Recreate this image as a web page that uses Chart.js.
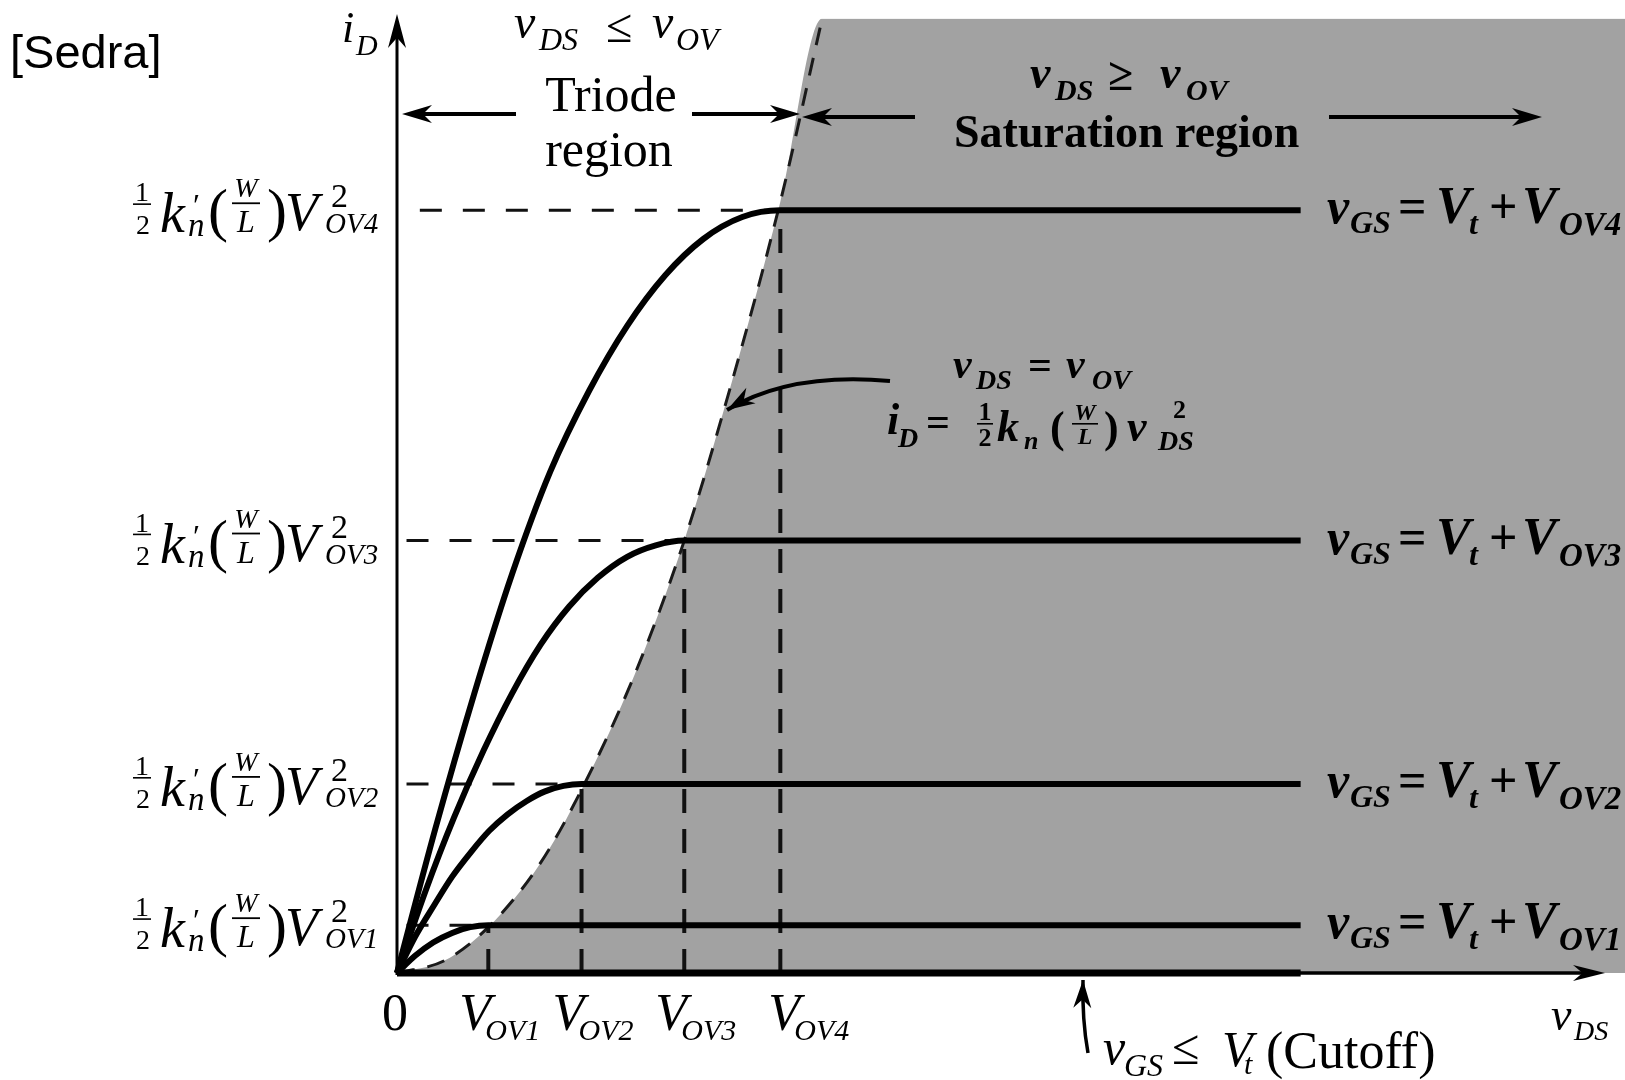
<!DOCTYPE html>
<html>
<head>
<meta charset="utf-8">
<title>MOSFET iD - vDS characteristics</title>
<script src="https://cdn.jsdelivr.net/npm/chart.js@4.4.1/dist/chart.umd.min.js"></script>
<style>
html, body { margin: 0; padding: 0; background: #fff; }
#wrap { width: 1625px; height: 1080px; }
</style>
</head>
<body>
<div id="wrap"><canvas id="chart" width="1625" height="1080"></canvas></div>
<script>
// overdrive voltages (x ticks) and the matching saturation currents (y levels)
var vovNames = ["OV1", "OV2", "OV3", "OV4"];
var vov = [0.96, 1.94, 3.02, 4.03];
var idSat = [0.50, 1.98, 4.53, 7.99];
var satEnd = 9.5;
var xMax = 12.91, yMax = 10.0;

// curves (triode part, then flat to satEnd)
var c1x = [0, 0.19, 0.38, 0.58, 0.77, 0.96, 9.5];
var c1y = [0, 0.18, 0.32, 0.42, 0.48, 0.50, 0.50];
var c2x = [0, 0.19, 0.39, 0.58, 0.78, 0.97, 1.16, 1.36, 1.55, 1.75, 1.94, 9.5];
var c2y = [0, 0.38, 0.71, 1.01, 1.27, 1.49, 1.66, 1.80, 1.90, 1.96, 1.98, 1.98];
var c3x = [0, 0.30, 0.60, 0.91, 1.21, 1.51, 1.81, 2.11, 2.42, 2.72, 3.02, 9.5];
var c3y = [0, 0.86, 1.63, 2.33, 2.93, 3.44, 3.84, 4.14, 4.36, 4.48, 4.53, 4.53];
var c4x = [0, 0.40, 0.81, 1.21, 1.61, 2.02, 2.42, 2.82, 3.22, 3.63, 4.03, 9.5];
var c4y = [0, 1.50, 2.92, 4.18, 5.25, 6.10, 6.78, 7.31, 7.69, 7.92, 7.99, 7.99];

// edge of saturation, vDS = vOV
var edgeX = [0, 0.50, 0.96, 1.50, 1.94, 2.50, 3.02, 3.50, 4.03, 4.47];
var edgeY = [0, 0.13, 0.48, 1.14, 1.92, 3.13, 4.53, 6.12, 8.08, 10.0];

function pts(xs, ys) {
	var out = [];
	for (var i = 0; i < xs.length; i++) out.push({ x: xs[i], y: ys[i] });
	return out;
}

var datasets = [];
[[c1x, c1y], [c2x, c2y], [c3x, c3y], [c4x, c4y]].forEach(function (c) {
	datasets.push({
		data: pts(c[0], c[1]), showLine: true, borderColor: "#000", borderWidth: 6,
		pointRadius: 0, cubicInterpolationMode: "monotone", clip: false, order: 0
	});
});
// cutoff: iD = 0
datasets.push({
	data: pts([0, satEnd], [0, 0]), showLine: true, borderColor: "#000", borderWidth: 7,
	pointRadius: 0, clip: false, order: 0
});
// dashed guides to each saturation point
for (var i = 0; i < vov.length; i++) {
	datasets.push({
		data: pts([i === 3 ? 0.24 : 0.1, vov[i]], [idSat[i], idSat[i]]), showLine: true,
		borderColor: "#111", borderWidth: 3, borderDash: [22, 21], pointRadius: 0, order: 1
	});
	datasets.push({
		data: pts([vov[i], vov[i]], [0, idSat[i]]), showLine: true, borderColor: "#111",
		borderWidth: 4, borderDash: [24, 16], pointRadius: 0, order: 1
	});
}
datasets.push({
	data: pts(edgeX, edgeY), showLine: true, borderColor: "#1a1a1a", borderWidth: 3,
	borderDash: [18, 13], pointRadius: 0, cubicInterpolationMode: "monotone", order: 2
});
// shaded saturation region
datasets.push({
	data: pts(edgeX.concat([xMax]), edgeY.concat([yMax])), showLine: true,
	borderWidth: 0, borderColor: "rgba(0,0,0,0)", backgroundColor: "#a2a2a2",
	fill: "origin", pointRadius: 0, cubicInterpolationMode: "monotone", order: 5
});

var SERIF = "'Liberation Serif', 'DejaVu Serif', serif";

function put(ctx, txt, x, y, size, style, align) {
	ctx.font = (style || "") + " " + size + "px " + SERIF;
	ctx.textAlign = align || "left";
	ctx.textBaseline = "alphabetic";
	ctx.fillText(txt, x, y);
}

function frac(ctx, num, den, cx, barY, size, style, w) {
	put(ctx, num, cx, barY - 4, size, style, "center");
	put(ctx, den, cx, barY + size * 0.85, size, style, "center");
	ctx.fillRect(cx - w / 2, barY - 1, w, 1.6);
}

function head(ctx, tx, ty, ang, len, half) {
	var ca = Math.cos(ang), sa = Math.sin(ang);
	function p(a, b) { return [tx + a * ca - b * sa, ty + a * sa + b * ca]; }
	var b1 = p(-len, -half), b2 = p(-len, half), n = p(-len * 0.7, 0);
	ctx.beginPath();
	ctx.moveTo(tx, ty);
	ctx.lineTo(b1[0], b1[1]);
	ctx.lineTo(n[0], n[1]);
	ctx.lineTo(b2[0], b2[1]);
	ctx.closePath();
	ctx.fill();
}

function arrow(ctx, x1, y1, x2, y2, lw) {
	var ang = Math.atan2(y2 - y1, x2 - x1);
	ctx.lineWidth = lw;
	ctx.beginPath();
	ctx.moveTo(x1, y1);
	ctx.lineTo(x2 - 10 * Math.cos(ang), y2 - 10 * Math.sin(ang));
	ctx.stroke();
	head(ctx, x2, y2, ang, 30, 9);
}

function curvedArrow(ctx, x1, y1, cx, cy, x2, y2, lw) {
	ctx.lineWidth = lw;
	ctx.beginPath();
	ctx.moveTo(x1, y1);
	ctx.quadraticCurveTo(cx, cy, x2, y2);
	ctx.stroke();
	head(ctx, x2, y2, Math.atan2(y2 - cy, x2 - cx), 28, 9);
}

var sketch = {
	id: "sketch",
	beforeDraw: function (chart) {
		var ctx = chart.ctx;
		ctx.save();
		ctx.fillStyle = "#fff";
		ctx.fillRect(0, 0, chart.width, chart.height);
		ctx.restore();
	},
	afterDatasetsDraw: function (chart) {
		var ctx = chart.ctx, xs = chart.scales.x, ys = chart.scales.y;
		var x0 = xs.getPixelForValue(0), y0 = ys.getPixelForValue(0);
		ctx.save();
		ctx.strokeStyle = "#000";
		ctx.fillStyle = "#000";
		ctx.lineCap = "butt";
		// axes with arrow heads
		ctx.lineWidth = 3;
		ctx.beginPath();
		ctx.moveTo(x0, y0 + 2);
		ctx.lineTo(x0, 30);
		ctx.stroke();
		head(ctx, x0, 14, -Math.PI / 2, 34, 9);
		ctx.lineWidth = 3.5;
		ctx.beginPath();
		ctx.moveTo(x0, y0);
		ctx.lineTo(1585, y0);
		ctx.stroke();
		head(ctx, 1605, y0, 0, 32, 8);
		ctx.restore();
	},
	afterDraw: function (chart) {
		var ctx = chart.ctx, xs = chart.scales.x, ys = chart.scales.y;
		var x0 = xs.getPixelForValue(0);
		ctx.save();
		ctx.fillStyle = "#000";
		ctx.strokeStyle = "#000";

		// source tag
		ctx.font = "47px 'Liberation Sans', Arial, sans-serif";
		ctx.textAlign = "left";
		ctx.fillText("[Sedra]", 10, 68);

		// axis names
		put(ctx, "i", 342, 42, 44, "italic");
		put(ctx, "D", 356, 55, 30, "italic");
		put(ctx, "v", 1551, 1030, 46, "italic");
		put(ctx, "DS", 1574, 1040, 28, "italic");

		// y labels: 1/2 k'n (W/L) V^2_OVn
		for (var i = 0; i < idSat.length; i++) {
			var L = ys.getPixelForValue(idSat[i]);
			put(ctx, "1", 142, L - 9, 28, "", "center");
			ctx.fillRect(133, L - 7, 18, 1.6);
			put(ctx, "2", 143, L + 24, 28, "", "center");
			put(ctx, "k", 160, L + 22, 56, "italic");
			put(ctx, "\u2032", 193, L + 6, 32, "");
			put(ctx, "n", 188, L + 26, 33, "italic");
			put(ctx, "(", 208, L + 20, 60, "");
			put(ctx, "W", 246, L - 13, 28, "italic", "center");
			ctx.fillRect(232, L - 8, 28, 1.8);
			put(ctx, "L", 246, L + 22, 32, "italic", "center");
			put(ctx, ")", 267, L + 20, 60, "");
			put(ctx, "V", 285, L + 20, 54, "italic");
			put(ctx, "2", 331, L - 3, 34, "");
			put(ctx, vovNames[i], 325, L + 23, 29, "italic");
		}

		// x labels
		put(ctx, "0", x0 - 2, 1030, 52, "", "center");
		for (var j = 0; j < vov.length; j++) {
			var px = xs.getPixelForValue(vov[j]) - (j === 3 ? 12 : 29);
			put(ctx, "V", px, 1030, 52, "italic");
			put(ctx, vovNames[j], px + 26, 1040, 30, "italic");
		}

		// right labels vGS = Vt + VOVn
		for (var k = 0; k < idSat.length; k++) {
			var R = ys.getPixelForValue(idSat[k]);
			put(ctx, "v", 1327, R + 13, 50, "bold italic");
			put(ctx, "GS", 1350, R + 23, 32, "bold italic");
			put(ctx, "=", 1398, R + 13, 50, "bold");
			put(ctx, "V", 1436, R + 13, 52, "bold italic");
			put(ctx, "t", 1469, R + 24, 32, "bold italic");
			put(ctx, "+", 1489, R + 13, 50, "bold");
			put(ctx, "V", 1522, R + 13, 52, "bold italic");
			put(ctx, vovNames[k], 1559, R + 25, 33, "bold italic");
		}

		// triode region heading
		put(ctx, "v", 514, 38, 48, "italic");
		put(ctx, "DS", 539, 50, 32, "italic");
		put(ctx, "\u2264", 606, 42, 48, "");
		put(ctx, "v", 652, 38, 48, "italic");
		put(ctx, "OV", 676, 50, 32, "italic");
		put(ctx, "Triode", 611, 111, 50, "", "center");
		put(ctx, "region", 609, 166, 50, "", "center");
		arrow(ctx, 516, 114, 402, 114, 4);
		arrow(ctx, 692, 114, 800, 114, 4);

		// saturation region heading
		put(ctx, "v", 1030, 88, 46, "bold italic");
		put(ctx, "DS", 1055, 100, 30, "bold italic");
		put(ctx, "\u2265", 1108, 90, 46, "bold");
		put(ctx, "v", 1160, 88, 46, "bold italic");
		put(ctx, "OV", 1186, 100, 30, "bold italic");
		put(ctx, "Saturation region", 954, 147, 46, "bold");
		arrow(ctx, 915, 117, 802, 117, 4);
		arrow(ctx, 1329, 117, 1542, 117, 4);

		// boundary note
		put(ctx, "v", 953, 378, 42, "bold italic");
		put(ctx, "DS", 976, 389, 28, "bold italic");
		put(ctx, "=", 1028, 379, 42, "bold");
		put(ctx, "v", 1066, 378, 42, "bold italic");
		put(ctx, "OV", 1092, 389, 28, "bold italic");
		put(ctx, "i", 887, 434, 44, "bold italic");
		put(ctx, "D", 898, 447, 28, "bold italic");
		put(ctx, "=", 926, 436, 42, "bold");
		frac(ctx, "1", "2", 985, 424, 26, "bold", 16);
		put(ctx, "k", 997, 441, 44, "bold italic");
		put(ctx, "n", 1024, 449, 26, "bold italic");
		put(ctx, "(", 1050, 442, 44, "bold");
		frac(ctx, "W", "L", 1085, 424, 24, "bold italic", 26);
		put(ctx, ")", 1104, 442, 44, "bold");
		put(ctx, "v", 1127, 441, 44, "bold italic");
		put(ctx, "2", 1173, 418, 26, "bold");
		put(ctx, "DS", 1158, 450, 28, "bold italic");
		curvedArrow(ctx, 890, 381, 790, 372, 727, 410, 4);

		// cutoff note
		put(ctx, "v", 1103, 1064, 50, "italic");
		put(ctx, "GS", 1124, 1076, 32, "italic");
		put(ctx, "\u2264", 1172, 1064, 50, "");
		put(ctx, "V", 1222, 1066, 50, "italic");
		put(ctx, "t", 1244, 1074, 30, "italic");
		put(ctx, "(Cutoff)", 1266, 1068, 52, "");
		curvedArrow(ctx, 1088, 1053, 1082, 1020, 1083, 980, 3.5);

		ctx.restore();
	}
};

new Chart(document.getElementById("chart"), {
	type: "scatter",
	data: { datasets: datasets },
	options: {
		responsive: false,
		animation: false,
		devicePixelRatio: 1,
		events: [],
		layout: { padding: { left: 397, right: 0, top: 18.5, bottom: 107 } },
		scales: {
			x: { type: "linear", min: 0, max: xMax, display: false },
			y: { type: "linear", min: 0, max: yMax, display: false }
		},
		plugins: { legend: { display: false }, tooltip: { enabled: false } }
	},
	plugins: [sketch]
});
</script>
</body>
</html>
